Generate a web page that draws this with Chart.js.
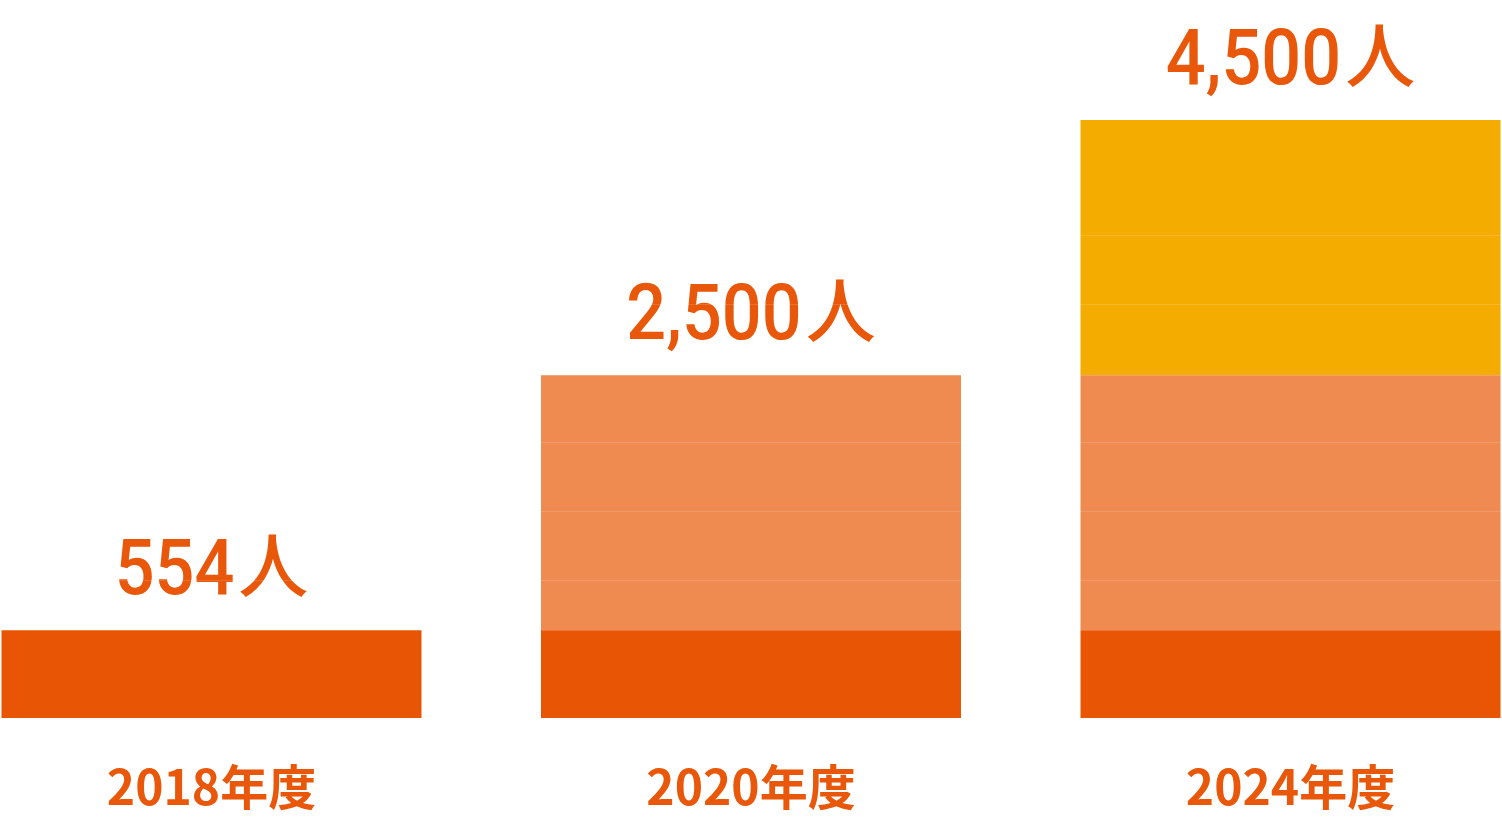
<!DOCTYPE html>
<html>
<head>
<meta charset="utf-8">
<script src="https://cdn.jsdelivr.net/npm/chart.js@4"></script>
<style>
  html, body { margin: 0; padding: 0; background: #fff; overflow: hidden; }
  #wrap { width: 1502px; height: 856px; position: relative; }
</style>
</head>
<body>
<div id="wrap"><canvas id="chart"></canvas></div>
<script>
// categories and values (segment heights, totals from the labels)
const categories = ['2018年度', '2020年度', '2024年度'];
const totals = [554, 2500, 4500];
const baseSeg = [660, 660, 660];
const midSeg = [null, 1920, 1920];
const topSeg = [null, null, 1920];
const gridValues = [1038, 1557, 2076, 3114, 3633];

const textColor = '#E8570A';

const toPoints = arr => arr.map((v, i) => ({ x: i, y: v }));

// draws the totals above each stack
const totalLabels = {
    id: 'totalLabels',
    afterDatasetsDraw(chart) {
        const ctx = chart.ctx;
        totals.forEach((t, i) => {
            let top = null, x = null;
            chart.data.datasets.forEach((ds, d) => {
                const el = chart.getDatasetMeta(d).data[i];
                if (el && ds.data[i].y != null) {
                    if (top === null || el.y < top) { top = el.y; x = el.x; }
                }
            });
            if (top === null) return;
            const num = t.toLocaleString('en-US');
            const sx = 0.9;
            ctx.save();
            ctx.fillStyle = textColor;
            ctx.textBaseline = 'alphabetic';
            ctx.font = '500 78px Roboto';
            const numW = ctx.measureText(num).width * sx;
            ctx.font = '500 70px "Noto Sans CJK JP"';
            const kanjiW = ctx.measureText('人').width;
            const gap = 4;
            const left = x - (numW + gap + kanjiW) / 2;
            const base = top - 36;
            ctx.save();
            ctx.translate(left, base);
            ctx.scale(sx, 1);
            ctx.font = '500 78px Roboto';
            ctx.textAlign = 'left';
            ctx.fillText(num, 0, 0);
            ctx.restore();
            ctx.font = '500 70px "Noto Sans CJK JP"';
            ctx.textAlign = 'left';
            ctx.fillText('人', left + numW + gap, base - 2);
            ctx.restore();
        });
    }
};

new Chart(document.getElementById('chart'), {
    type: 'bar',
    data: {
        datasets: [
            { label: 'base', data: toPoints(baseSeg), backgroundColor: '#E85504' },
            { label: 'mid', data: toPoints(midSeg), backgroundColor: '#EF8A50' },
            { label: 'top', data: toPoints(topSeg), backgroundColor: '#F4AC00' }
        ]
    },
    options: {
        responsive: true,
        maintainAspectRatio: false,
        animation: false,
        layout: { padding: 0 },
        datasets: {
            bar: { categoryPercentage: 1, barPercentage: 0.7785, borderWidth: 0 }
        },
        plugins: {
            legend: { display: false },
            tooltip: { enabled: false }
        },
        scales: {
            x: {
                type: 'linear',
                stacked: true,
                offset: false,
                min: -0.392,
                max: 2.392,
                afterBuildTicks: scale => {
                    scale.ticks = categories.map((c, i) => ({ value: i }));
                },
                grid: { display: false, drawTicks: false, offset: false },
                border: { display: false },
                ticks: {
                    padding: 40.2,
                    color: textColor,
                    font: { family: '"Noto Sans CJK JP"', size: 48, weight: 'bold', lineHeight: 1.2 },
                    maxRotation: 0,
                    autoSkip: false,
                    callback: v => categories[v]
                }
            },
            y: {
                stacked: true,
                min: 0,
                max: 5403,
                afterBuildTicks: scale => {
                    scale.ticks = gridValues.map(v => ({ value: v }));
                },
                grid: {
                    z: 1,
                    drawTicks: false,
                    lineWidth: 1,
                    color: 'rgba(255,255,255,0.14)'
                },
                border: { display: false },
                ticks: { display: false }
            }
        }
    },
    plugins: [totalLabels]
});
</script>
</body>
</html>
